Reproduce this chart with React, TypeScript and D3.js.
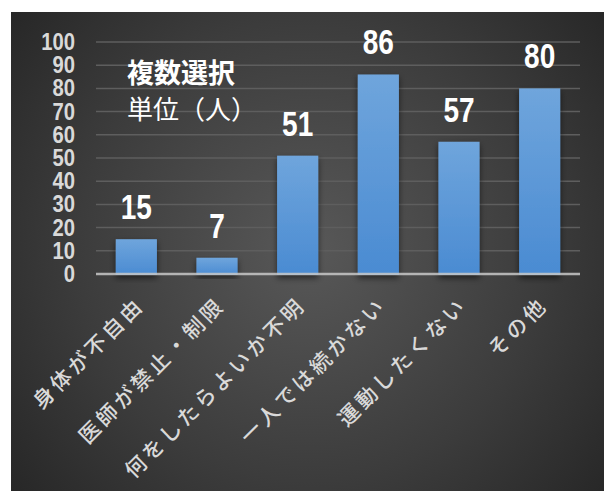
import React from "react";
import * as d3 from "d3";

const categories = ["身体が不自由", "医師が禁止・制限", "何をしたらよいか不明", "一人では続かない", "運動したくない", "その他"];
const values = [15, 7, 51, 86, 57, 80];
const yTicks = [0, 10, 20, 30, 40, 50, 60, 70, 80, 90, 100];
const noteTitle = "複数選択";
const noteUnit = "単位（人）";

export default function App() {
  const W = 605, H = 491;
  const x = d3.scaleBand<string>().domain(categories).range([96, 580]).padding(0);
  const y = d3.scaleLinear().domain([0, 100]).range([274, 42]);
  const barW = x.bandwidth() * 0.51;
  const cjk = "'Noto Sans CJK JP', 'Noto Sans', sans-serif";
  const num = "'Liberation Sans', Arial, sans-serif";
  return (
    <svg width={W} height={H} style={{ position: "absolute", left: 0, top: 0, background: "#fff" }}>
      <defs>
        <radialGradient id="bg" cx="310" cy="250" r="420" gradientUnits="userSpaceOnUse">
          <stop offset="0" stopColor="#585858" />
          <stop offset="0.55" stopColor="#3c3c3c" />
          <stop offset="1" stopColor="#222222" />
        </radialGradient>
        <linearGradient id="bar" x1="0" y1="0" x2="0" y2="1">
          <stop offset="0" stopColor="#6fa5dc" />
          <stop offset="1" stopColor="#4a8bd2" />
        </linearGradient>
        <filter id="sh" x="-30%" y="-10%" width="160%" height="130%">
          <feDropShadow dx="0" dy="3" stdDeviation="3" floodColor="#000" floodOpacity="0.55" />
        </filter>
      </defs>
      <rect x={11} y={12} width={593} height={479} fill="url(#bg)" />
      {yTicks.filter((t) => t > 0).map((t) => (
        <line key={t} x1={96} x2={580} y1={y(t)} y2={y(t)} stroke="#5e5e5e" strokeWidth={1.5} />
      ))}
      {categories.map((c, i) => (
        <rect key={c} x={x(c)! + (x.bandwidth() - barW) / 2} y={y(values[i])} width={barW}
          height={y(0) - y(values[i]) + 1} fill="url(#bar)" filter="url(#sh)" />
      ))}
      <line x1={96} x2={580} y1={y(0)} y2={y(0)} stroke="#c8c8c8" strokeOpacity={0.85} strokeWidth={2.5} />
      {yTicks.map((t) => (
        <text key={t} transform={`translate(75,${y(t)}) scale(0.88,1)`} textAnchor="end" dominantBaseline="central"
          fontFamily={num} fontWeight="bold" fontSize={23} fill="#d9d9d9">{t}</text>
      ))}
      {categories.map((c, i) => (
        <text key={c} transform={`translate(${x(c)! + x.bandwidth() / 2},${y(values[i]) - 20}) scale(0.8,1)`}
          textAnchor="middle" fontFamily={num} fontWeight="bold" fontSize={35} fill="#ffffff">{values[i]}</text>
      ))}
      <text x={127} y={71} dominantBaseline="central" fontFamily={cjk} fontWeight="bold" fontSize={27} fill="#ffffff">{noteTitle}</text>
      <text x={127} y={107} dominantBaseline="central" fontFamily={cjk} fontSize={26} fill="#ffffff">{noteUnit}</text>
      {categories.map((c) => (
        <text key={c} transform={`translate(${x(c)! + x.bandwidth() / 2 + 3},${300}) rotate(-45)`}
          textAnchor="end" dominantBaseline="central" fontFamily={cjk} fontWeight={500} fontSize={21} letterSpacing={3.5}
          fill="#d9d9d9">{c}</text>
      ))}
    </svg>
  );
}
